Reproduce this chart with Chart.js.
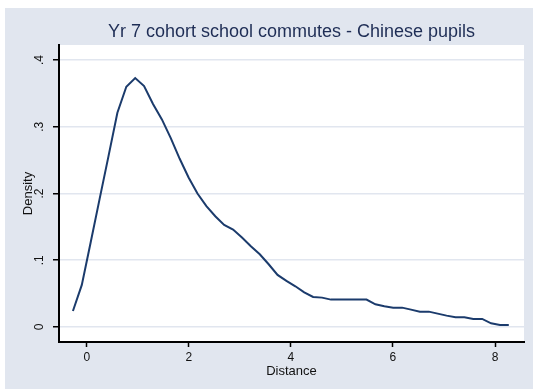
<!DOCTYPE html>
<html>
<head>
<meta charset="utf-8">
<script src="https://cdn.jsdelivr.net/npm/chart.js@4/dist/chart.umd.min.js"></script>
<style>
  html, body { margin: 0; padding: 0; background: #ffffff; }
  canvas { display: block; }
</style>
</head>
<body>
<canvas id="kd" width="533" height="389"></canvas>
<script>
// Kernel density of commute distance, evaluated on an even grid
const DISTANCE = [
  -0.270, -0.096, 0.078, 0.253, 0.427, 0.601, 0.776, 0.950, 1.124, 1.299,
  1.473, 1.647, 1.822, 1.996, 2.170, 2.345, 2.519, 2.693, 2.868, 3.042,
  3.216, 3.391, 3.565, 3.739, 3.913, 4.088, 4.262, 4.436, 4.611, 4.785,
  4.959, 5.134, 5.308, 5.482, 5.657, 5.831, 6.005, 6.180, 6.354, 6.528,
  6.703, 6.877, 7.051, 7.226, 7.400, 7.574, 7.749, 7.923, 8.097, 8.270
];
const DENSITY = [
  0.024, 0.063, 0.127, 0.192, 0.256, 0.321, 0.360, 0.373, 0.361, 0.334,
  0.311, 0.283, 0.252, 0.224, 0.200, 0.181, 0.166, 0.153, 0.146, 0.134,
  0.121, 0.109, 0.094, 0.078, 0.069, 0.061, 0.052, 0.045, 0.044, 0.041,
  0.041, 0.041, 0.041, 0.041, 0.034, 0.031, 0.029, 0.029, 0.026, 0.023,
  0.023, 0.020, 0.017, 0.0145, 0.0145, 0.012, 0.012, 0.0055, 0.003, 0.003
];
const X_TICKS = [0, 2, 4, 6, 8];
const Y_TICKS = [0, 0.1, 0.2, 0.3, 0.4];
const Y_TICK_LABELS = ['0', '.1', '.2', '.3', '.4'];

const TITLE = 'Yr 7 cohort school commutes - Chinese pupils';
const X_TITLE = 'Distance';
const Y_TITLE = 'Density';

const FONT = '"Liberation Sans", Arial, Helvetica, sans-serif';
const REGION_BG = '#e1e6ef';
const GRID = '#e1e6ef';
const LINE = '#1b3b6c';

// Graph region fill behind everything, white plot region on top of it
const backdrop = {
  id: 'backdrop',
  beforeDraw(chart) {
    const { ctx, chartArea: a, width, height } = chart;
    ctx.save();
    ctx.fillStyle = '#ffffff';
    ctx.fillRect(0, 0, width, height);
    ctx.fillStyle = REGION_BG;
    ctx.fillRect(5, 8, width - 5, height - 8);
    ctx.fillStyle = '#ffffff';
    ctx.fillRect(a.left, a.top, a.right - a.left, a.bottom - a.top);
    ctx.restore();
  }
};

new Chart(document.getElementById('kd'), {
  type: 'line',
  data: {
    datasets: [{
      data: DISTANCE.map((x, i) => ({ x, y: DENSITY[i] })),
      borderColor: LINE,
      borderWidth: 2,
      pointRadius: 0,
      tension: 0,
      fill: false
    }]
  },
  options: {
    responsive: false,
    animation: false,
    layout: { padding: { left: 0, right: 9, top: 0, bottom: 0 } },
    plugins: {
      legend: { display: false },
      tooltip: { enabled: false },
      title: {
        display: true,
        text: TITLE,
        fullSize: false,
        color: '#1e2d55',
        font: { family: FONT, size: 18, weight: 'normal' },
        padding: { top: 21.7, bottom: 1.7 }
      }
    },
    scales: {
      x: {
        type: 'linear',
        min: -0.543,
        max: 8.568,
        afterBuildTicks: s => { s.ticks = X_TICKS.map(v => ({ value: v })); },
        afterFit: s => { s.height = 47; },
        grid: {
          drawOnChartArea: false,
          drawTicks: true,
          tickLength: 5,
          tickColor: '#000000',
          tickWidth: 1.5
        },
        border: { display: true, color: '#000000', width: 2 },
        ticks: {
          color: '#111111',
          padding: 3.3,
          maxRotation: 0,
          font: { family: FONT, size: 12 }
        },
        title: {
          display: true,
          text: X_TITLE,
          color: '#111111',
          font: { family: FONT, size: 13 },
          padding: { top: 0, bottom: 9.5 }
        }
      },
      y: {
        type: 'linear',
        min: -0.0225,
        max: 0.4225,
        afterBuildTicks: s => { s.ticks = Y_TICKS.map(v => ({ value: v })); },
        afterFit: s => { s.width = 59; },
        grid: {
          color: GRID,
          lineWidth: 1.5,
          drawTicks: true,
          tickLength: 6,
          tickColor: '#000000',
          tickWidth: 1.5
        },
        border: { display: true, color: '#000000', width: 2 },
        ticks: {
          color: '#111111',
          minRotation: 90,
          maxRotation: 90,
          crossAlign: 'center',
          padding: 8,
          font: { family: FONT, size: 12 },
          callback: (v) => {
            const i = Y_TICKS.indexOf(v);
            return i >= 0 ? Y_TICK_LABELS[i] : '';
          }
        },
        title: {
          display: true,
          text: Y_TITLE,
          color: '#111111',
          font: { family: FONT, size: 13 },
          padding: { top: 20.2, bottom: 0 }
        }
      }
    }
  },
  plugins: [backdrop]
});
</script>
</body>
</html>
